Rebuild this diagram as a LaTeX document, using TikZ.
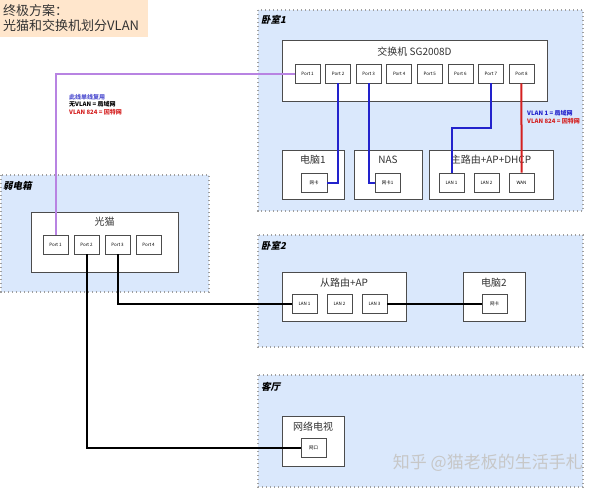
\documentclass[tikz,border=0pt]{standalone}
\usepackage{fontspec}
\setmainfont{Noto Sans CJK SC}
\newfontfamily\roomfont{Noto Sans CJK SC}[FakeSlant=0.22]
\definecolor{roomfill}{HTML}{DAE8FC}
\definecolor{notefill}{HTML}{FFE6CC}
\definecolor{lanblue}{HTML}{2222CC}
\definecolor{wanred}{HTML}{D42020}
\definecolor{trunk}{HTML}{B883E2}
\definecolor{notepurple}{HTML}{5050D0}

\def\portW{25}
\def\portH{19}

\begin{document}
\begin{tikzpicture}[x=1pt, y=-1pt,
    room/.style={draw=gray!75, line width=1.3pt, dash pattern=on 1.3pt off 2.7pt, fill=roomfill},
    roomname/.style={anchor=west, inner sep=0pt, font=\roomfont\bfseries\fontsize{9.5}{11}\selectfont},
    box/.style={draw=black!70, fill=white, line width=0.8pt, inner sep=0pt},
    port/.style={draw=black!70, fill=white, line width=0.6pt, inner sep=0pt,
        minimum width=\portW pt, minimum height=\portH pt, font=\fontsize{4.5}{5}\selectfont},
    boxtitle/.style={inner sep=0pt, text=black!80, font=\fontsize{10}{12}\selectfont},
    note/.style={anchor=west, inner sep=0pt, font=\bfseries\fontsize{6}{7}\selectfont},
    cable/.style={line width=2pt}]
    \useasboundingbox (0,0) rectangle (600,488);

    \fill[notefill] (0,0) rectangle (148,37);
    \node[anchor=north west, inner sep=0pt, align=left, text=black!80,
        font=\fontsize{13}{15}\selectfont] (plan) at (3,4) {终极方案：\\光猫和交换机划分VLAN};

    \draw[room] (258,10) rectangle (583,211);
    \draw[room] (1,175) rectangle (209,292);
    \draw[room] (258,235) rectangle (583,347);
    \draw[room] (258,375) rectangle (583,487);
    \node[roomname] (bed1) at (261,20) {卧室1};
    \node[roomname] (box0) at (3,186) {弱电箱};
    \node[roomname] (bed2) at (261,246) {卧室2};
    \node[roomname] (hall) at (261,387) {客厅};

    \node[text=white!78!black, anchor=east, inner sep=0pt, font=\fontsize{17}{20}\selectfont]
        (mark) at (583,463) {知乎 @猫老板的生活手札};

    \node[box, minimum width=265pt, minimum height=61pt] (switch) at (414.5,70.5) {};
    \node[boxtitle] (switcht) at (414.5,52) {交换机 SG2008D};
    \foreach \i in {1,...,8} {
        \node[port] (sw\i) at ({307.5+30.57*(\i-1)},73.5) {Port \i};
    }

    \node[box, minimum width=62pt, minimum height=49pt] (pc1) at (313,174.5) {};
    \node[boxtitle] (pc1t) at (313,160) {电脑1};
    \node[port, minimum width=26pt] (pc1nic) at (314,182.5) {网卡};

    \node[box, minimum width=68pt, minimum height=49pt] (nas) at (388,174.5) {};
    \node[boxtitle] (nast) at (388,160) {NAS};
    \node[port] (nasnic) at (387.5,182.5) {网卡1};

    \node[box, minimum width=124pt, minimum height=49pt] (main) at (491,174.5) {};
    \node[boxtitle] (maint) at (491,160) {主路由+AP+DHCP};
    \node[port] (rl1) at (451.5,182.5) {LAN 1};
    \node[port] (rl2) at (486.5,182.5) {LAN 2};
    \node[port] (wan) at (521.5,182.5) {WAN};

    \node[box, minimum width=147pt, minimum height=60pt] (modem) at (104.5,242) {};
    \node[boxtitle] (modemt) at (104.5,222) {光猫};
    \foreach \i in {1,...,4} {
        \node[port] (gm\i) at ({55.5+31*(\i-1)},244.5) {Port \i};
    }

    \node[box, minimum width=124pt, minimum height=49pt] (sub) at (344,296.5) {};
    \node[boxtitle] (subt) at (344,283) {从路由+AP};
    \foreach \i in {1,...,3} {
        \node[port] (sl\i) at ({304.5+35*(\i-1)},304) {LAN \i};
    }

    \node[box, minimum width=62pt, minimum height=49pt] (pc2) at (494,296.5) {};
    \node[boxtitle] (pc2t) at (494,283) {电脑2};
    \node[port] (pc2nic) at (494.5,304) {网卡};

    \node[box, minimum width=62pt, minimum height=50pt] (tv) at (313,441) {};
    \node[boxtitle] (tvt) at (313,427) {网络电视};
    \node[port] (tvport) at (313.5,447.5) {网口};

    \draw[cable, trunk] (sw1.west) -| (gm1.north);
    \draw[cable, lanblue] (sw2.south) |- (pc1nic.east);
    \draw[cable, lanblue] (sw3.south) |- (nasnic.west);
    \draw[cable, lanblue] (sw7.south) -- ++(0,45) -| (rl1.north);
    \draw[cable, wanred] (sw8.south) -- (wan.north);
    \draw[cable] (gm2.south) |- (tvport.west);
    \draw[cable] (gm3.south) |- (sl1.west);
    \draw[cable] (sl3.east) -- (pc2nic.west);

    \node[note, text=lanblue] (vlan1) at (527,113) {VLAN 1 = 局域网};
    \node[note, text=wanred] (vlan824) at (527,121) {VLAN 824 = 因特网};
    \node[note, text=notepurple] (trunkt) at (69,97) {此线单线复用};
    \node[note] (untag) at (69,104.5) {无VLAN = 局域网};
    \node[note, text=wanred] (tagged) at (69,112) {VLAN 824 = 因特网};
\end{tikzpicture}
\end{document}
